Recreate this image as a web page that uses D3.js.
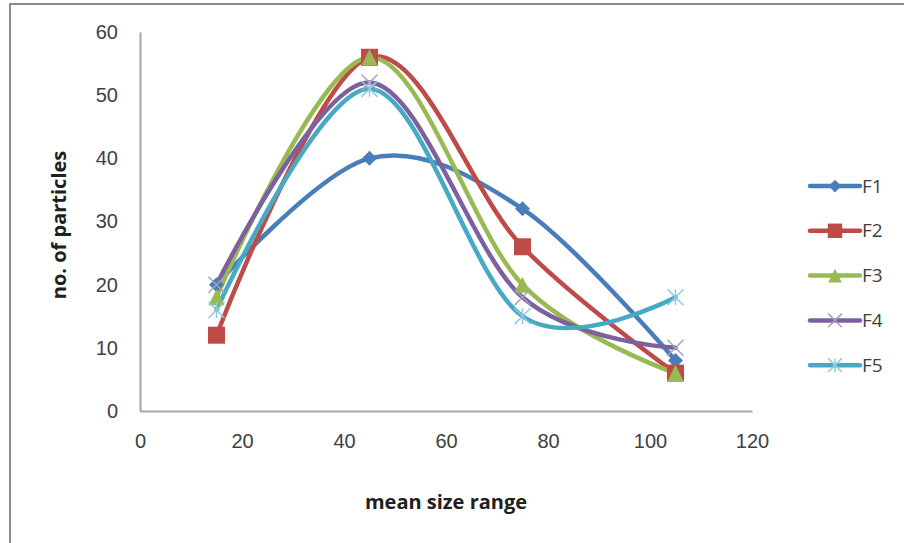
<!DOCTYPE html>
<html>
<head>
<meta charset="utf-8">
<script src="https://cdn.jsdelivr.net/npm/d3@7"></script>
<style>
  body { margin: 0; background: #fff; }
  svg { display: block; font-family: "Open Sans", "Noto Sans", sans-serif; }
  .tick text { font-size: 20px; fill: #404040; }
  .title { font-size: 20px; font-weight: bold; fill: #202020; }
  .legend text { font-size: 19px; fill: #404040; }
</style>
</head>
<body>
<svg id="chart" width="904" height="543"></svg>
<script>
// mean size range (x) and the five formulations
var sizes = [15, 45, 75, 105];
var seriesNames = ["F1", "F2", "F3", "F4", "F5"];
var F1 = [20, 40, 32, 8];
var F2 = [12, 56, 26, 6];
var F3 = [18, 56, 20, 6];
var F4 = [20, 52, 18, 10];
var F5 = [16, 51, 15, 18];
var xTicks = [0, 20, 40, 60, 80, 100, 120];
var yTicks = [0, 10, 20, 30, 40, 50, 60];

var colors = ["#4a7ebb", "#be4b48", "#98b954", "#7d60a0", "#46aac5"];
var markerColors = ["#4a7ebb", "#be4b48", "#98b954", "#a99cc0", "#8ccbdd"];
var markerTypes = ["diamond", "square", "triangle", "x", "star"];
var allValues = [F1, F2, F3, F4, F5];

var MARGINS = { left: 140, right: 152, top: 32, bottom: 132 };
var WIDTH = 904, HEIGHT = 543;

var svg = d3.select("#chart");

// outer chart frame (top and left edges show)
svg.append("path")
    .attr("d", "M10,560 L10,4 L910,4")
    .attr("fill", "none")
    .attr("stroke", "#8c8c8c")
    .attr("stroke-width", 2);

var xRange = d3.scaleLinear().domain([0, 120]).range([MARGINS.left, WIDTH - MARGINS.right]);
var yRange = d3.scaleLinear().domain([0, 60]).range([HEIGHT - MARGINS.bottom, MARGINS.top]);

var xAxis = d3.axisBottom(xRange).tickValues(xTicks).tickSize(0).tickPadding(31);
var yAxis = d3.axisLeft(yRange).tickValues(yTicks).tickSize(0).tickPadding(22);

var x2 = svg.append("g")
    .attr("transform", "translate(0," + yRange(0) + ")")
    .call(xAxis);
var y2 = svg.append("g")
    .attr("transform", "translate(" + xRange(0) + ",0)")
    .call(yAxis);
[x2, y2].forEach(function (g) {
    g.select(".domain").attr("stroke", "#a6a6a6").attr("stroke-width", 2);
});
x2.selectAll(".tick text").attr("dy", "0.32em");

svg.append("text")
    .attr("class", "title")
    .attr("text-anchor", "middle")
    .attr("x", 446).attr("y", 509)
    .text("mean size range");

svg.append("text")
    .attr("class", "title")
    .attr("text-anchor", "middle")
    .attr("transform", "translate(66,225) rotate(-90)")
    .text("no. of particles");

var lineFunc = d3.line()
    .x(function (d) { return xRange(d[0]); })
    .y(function (d) { return yRange(d[1]); })
    .curve(d3.curveCardinal.tension(0));

/**
 * marker path centred on 0,0
 */
function markerPath(type, s) {
    var h = s / 2;
    if (type === "diamond") return "M0," + (-h) + "L" + h + ",0L0," + h + "L" + (-h) + ",0Z";
    if (type === "square") return "M" + (-h) + "," + (-h) + "h" + s + "v" + s + "h" + (-s) + "Z";
    if (type === "triangle") return "M0," + (-h) + "L" + h + "," + h + "L" + (-h) + "," + h + "Z";
    if (type === "x") return "M" + (-h) + "," + (-h) + "L" + h + "," + h + "M" + h + "," + (-h) + "L" + (-h) + "," + h;
    // star: x plus vertical bar
    return "M" + (-h) + "," + (-h) + "L" + h + "," + h + "M" + h + "," + (-h) + "L" + (-h) + "," + h + "M0," + (-h) + "L0," + h;
}
var markerSize = { diamond: 15, square: 17, triangle: 16, x: 16, star: 16 };

function drawMarker(g, i, x, y, scale) {
    var t = markerTypes[i];
    var p = g.append("path")
        .attr("transform", "translate(" + x + "," + y + ")")
        .attr("d", markerPath(t, markerSize[t] * scale));
    if (t === "x" || t === "star") {
        p.attr("fill", "none").attr("stroke", markerColors[i]).attr("stroke-width", 1.5);
    } else {
        p.attr("fill", markerColors[i]);
    }
}

var plot = svg.append("g");
allValues.forEach(function (vals, i) {
    var pts = sizes.map(function (s, k) { return [s, vals[k]]; });
    plot.append("path")
        .attr("d", lineFunc(pts))
        .attr("fill", "none")
        .attr("stroke", colors[i])
        .attr("stroke-width", 4.5)
        .attr("stroke-linecap", "round");
});
allValues.forEach(function (vals, i) {
    sizes.forEach(function (s, k) {
        drawMarker(plot, i, xRange(s), yRange(vals[k]), 1);
    });
});

// legend
var legend = svg.append("g").attr("class", "legend");
seriesNames.forEach(function (name, i) {
    var y = 186 + i * 44.8;
    legend.append("line")
        .attr("x1", 810).attr("x2", 860)
        .attr("y1", y).attr("y2", y)
        .attr("stroke", colors[i])
        .attr("stroke-width", 4.5)
        .attr("stroke-linecap", "round");
    drawMarker(legend, i, 835, y, 0.85);
    legend.append("text")
        .attr("x", 862).attr("y", y)
        .attr("dy", "0.35em")
        .text(name);
});
</script>
</body>
</html>
